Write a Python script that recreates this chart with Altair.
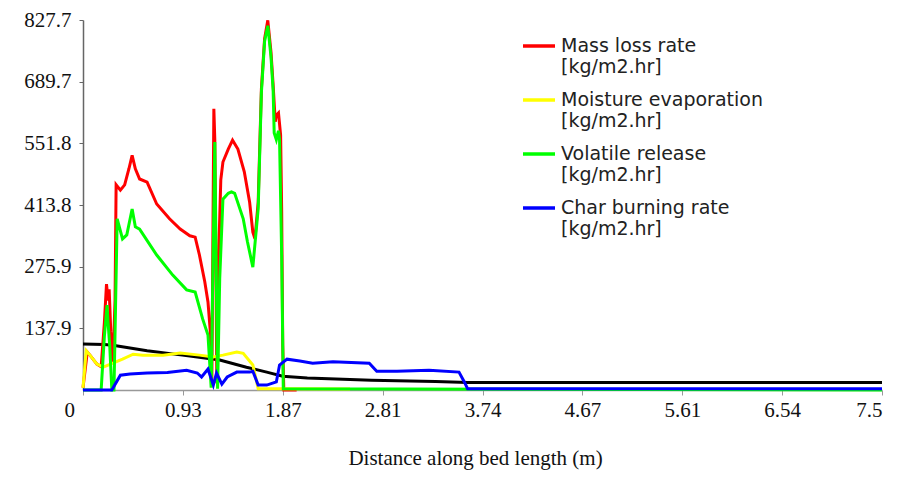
import altair as alt
import pandas as pd

# ---- data ----
mass_x = [0.00, 0.04, 0.065, 0.13, 0.17, 0.20, 0.22, 0.235, 0.245, 0.26, 0.28, 0.30, 0.31, 0.35, 0.39, 0.43,
          0.46, 0.49, 0.53, 0.60, 0.69, 0.81, 0.91, 1.00, 1.05, 1.09, 1.14, 1.17, 1.19, 1.206, 1.225, 1.234,
          1.253, 1.27, 1.29, 1.31, 1.36, 1.40, 1.45, 1.51, 1.56, 1.59, 1.61, 1.64, 1.67, 1.70, 1.73, 1.76,
          1.78, 1.80, 1.81, 1.83, 1.85, 1.86, 1.87, 1.88, 2.00]
mass_y = [5, 85, 78, 58, 52, 150, 237, 200, 225, 130, 60, 200, 459, 447, 459, 495,
          525, 495, 472, 465, 416, 383, 360, 345, 342, 302, 242, 197, 137, 10, 629, 560,
          15, 300, 470, 510, 539, 559, 539, 488, 420, 353, 338, 420, 673, 786, 827, 756,
          682, 600, 615, 620, 570, 400, 100, 0, 0]

moist_x = [0.00, 0.03, 0.065, 0.13, 0.19, 0.28, 0.37, 0.47, 0.56, 0.75, 0.91, 1.09, 1.22, 1.31, 1.44, 1.50,
           1.59, 1.64, 1.87, 2.50]
moist_y = [5, 88, 78, 58, 51, 60, 69, 80, 78, 78, 83, 78, 74, 78, 85, 82,
           56, 3, 3, 2]

vol_x = [0.00, 0.17, 0.20, 0.225, 0.235, 0.25, 0.27, 0.29, 0.32, 0.37, 0.41, 0.46, 0.49, 0.53, 0.69, 0.84,
         0.97, 1.05, 1.12, 1.17, 1.20, 1.234, 1.26, 1.28, 1.31, 1.36, 1.39, 1.42, 1.50, 1.54, 1.59, 1.64,
         1.67, 1.70, 1.73, 1.76, 1.78, 1.79, 1.81, 1.83, 1.84, 1.86, 1.875, 7.48]
vol_y = [0, 0, 120, 190, 150, 100, 0, 0, 383, 338, 347, 405, 365, 360, 302, 257,
         224, 219, 159, 123, 5, 555, 3, 250, 427, 440, 443, 440, 383, 331, 275, 405,
         665, 780, 815, 745, 670, 575, 560, 580, 560, 300, 3, 0]

char_x = [0.00, 0.27, 0.35, 0.44, 0.60, 0.79, 0.97, 1.07, 1.11, 1.17, 1.22, 1.25, 1.30, 1.35, 1.44, 1.56,
          1.59, 1.64, 1.72, 1.81, 1.84, 1.91, 2.03, 2.15, 2.34, 2.68, 2.75, 2.94, 3.24, 3.52, 3.57, 3.60, 7.48]
char_y = [0, 0, 33, 36, 38, 39, 44, 38, 29, 47, 11, 38, 13, 29, 40, 40,
          42, 11, 11, 18, 56, 69, 65, 60, 63, 60, 42, 42, 44, 40, 18, 3, 3]

black_x = [0.00, 0.20, 0.28, 0.60, 0.93, 1.28, 1.53, 1.72, 1.87, 2.10, 2.70, 3.30, 3.60, 7.48]
black_y = [103, 102, 100, 88, 78, 67, 51, 40, 31, 27, 22, 19, 17, 17]

series_names = ["Mass loss rate|\u00a0[kg/m2.hr]", "Moisture evaporation|\u00a0[kg/m2.hr]",
                "Volatile release|\u00a0[kg/m2.hr]", "Char burning rate|\u00a0[kg/m2.hr]"]
series_colors = ["#ff0000", "#ffff00", "#00ff00", "#0000ff"]

x_ticks = [0, 0.935, 1.87, 2.805, 3.74, 4.675, 5.61, 6.545, 7.48]
x_tick_labels = ["0", "0.93", "1.87", "2.81", "3.74", "4.67", "5.61", "6.54", "7.5"]
y_ticks = [137.9, 275.9, 413.8, 551.8, 689.7, 827.7]

series_data = [(mass_x, mass_y), (moist_x, moist_y), (vol_x, vol_y), (char_x, char_y)]

label_js = "[" + ",".join("'%s'" % s for s in x_tick_labels) + "]"

x_enc = alt.X("x:Q", scale=alt.Scale(domain=[0, 7.48], nice=False, zero=False),
              axis=alt.Axis(values=x_ticks, labelExpr=label_js + "[round(datum.value / 0.935)]",
                            title="Distance along bed length (m)", grid=False,
                            labelFont="Liberation Serif", labelFontSize=21, labelColor="#111",
                            titleFont="Liberation Serif", titleFontSize=21, titleFontWeight="normal",
                            titleColor="#111", titlePadding=27, titleX=392, labelPadding=4, tickSize=5,
                            domainColor="#999", tickColor="#999", domainWidth=1.5,
                            labelOffset={"condition": {"test": "datum.value == 0", "value": -19}, "value": 0}))
y_enc = alt.Y("y:Q", scale=alt.Scale(domain=[0, 827.7], nice=False, zero=False),
              axis=alt.Axis(values=y_ticks, format=".1f", title=None, grid=False,
                            labelFont="Liberation Serif", labelFontSize=21, labelColor="#111",
                            labelPadding=8, tickSize=4, domainColor="#666", tickColor="#666",
                            domainWidth=1.5))

color_enc = alt.Color("series:N",
                      scale=alt.Scale(domain=series_names, range=series_colors),
                      legend=alt.Legend(orient="none", legendX=438, legendY=8, title=None,
                                        symbolType="stroke", symbolSize=1024, symbolStrokeWidth=3.5,
                                        labelFont="DejaVu Sans", labelFontSize=19, labelColor="#222",
                                        labelExpr="split(datum.label, '|')", labelOffset=4,
                                        labelLimit=400, padding=0, rowPadding=5))

black_df = pd.DataFrame({"x": black_x, "y": black_y})
layers = [alt.Chart(black_df).mark_line(color="black", strokeWidth=3).encode(x=x_enc, y=y_enc)]

for name, (xs, ys) in zip(series_names, series_data):
    df = pd.DataFrame({"x": xs, "y": ys, "series": name})
    layers.append(alt.Chart(df).mark_line(strokeWidth=3).encode(x=x_enc, y=y_enc, color=color_enc))

chart = alt.layer(*layers).properties(
    width=799, height=370,
    autosize=alt.AutoSizeParams(type="none"),
    padding={"left": 75, "top": 12, "right": 5, "bottom": 80},
).configure_view(stroke=None)

chart.save("out.html", embed_options={"renderer": "svg", "actions": False})
